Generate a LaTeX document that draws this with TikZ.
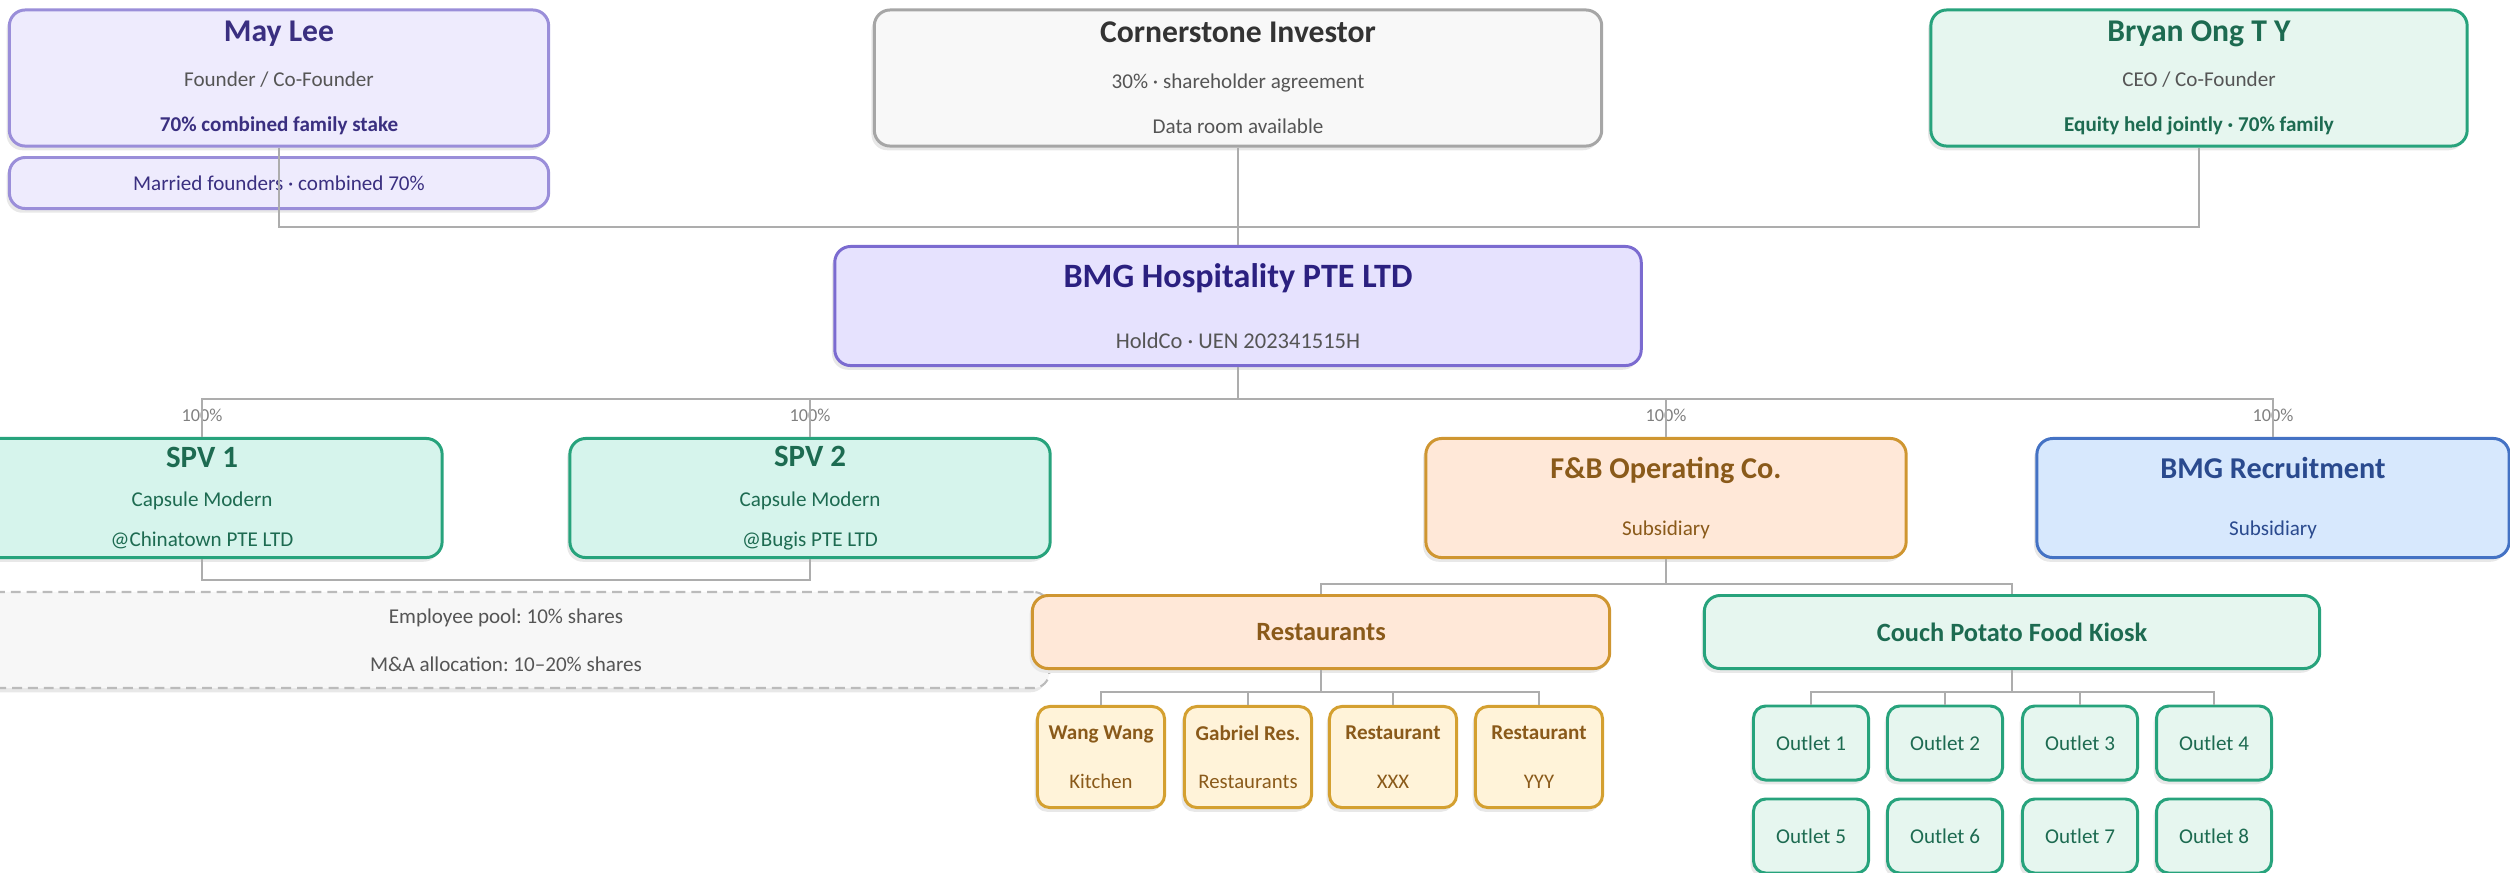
\documentclass[tikz,border=0pt]{standalone}
\usepackage{fontspec}
\setmainfont{Carlito}
\usepackage{tikz}
\usetikzlibrary{shadows}
\frenchspacing
\definecolor{linkgray}{HTML}{ADADAD}
\definecolor{subgray}{HTML}{555555}
\definecolor{lavfill}{HTML}{EEEBFD}
\definecolor{lavline}{HTML}{9A8ED9}
\definecolor{lavtext}{HTML}{3A2F80}
\definecolor{invfill}{HTML}{F8F8F8}
\definecolor{invline}{HTML}{A6A6A6}
\definecolor{invtext}{HTML}{333333}
\definecolor{mintfill}{HTML}{E6F6EF}
\definecolor{mintline}{HTML}{27A37C}
\definecolor{minttext}{HTML}{1D6B51}
\definecolor{holdfill}{HTML}{E6E2FE}
\definecolor{holdline}{HTML}{7B6BD0}
\definecolor{holdtext}{HTML}{2B2080}
\definecolor{spvfill}{HTML}{D6F4EC}
\definecolor{peachfill}{HTML}{FFE8D8}
\definecolor{peachline}{HTML}{CF9631}
\definecolor{browntext}{HTML}{8A5A1A}
\definecolor{bluefill}{HTML}{D7E8FD}
\definecolor{blueline}{HTML}{4472C4}
\definecolor{bluetext}{HTML}{2A4A8E}
\definecolor{poolfill}{HTML}{F7F7F7}
\definecolor{poolline}{HTML}{BBBBBB}
\definecolor{creamfill}{HTML}{FFF3D9}
\definecolor{creamline}{HTML}{D4A030}
\newcommand{\hd}[2][9]{{\fontsize{#1}{#1}\selectfont\bfseries #2}}
\tikzset{%
    box/.style={draw, rounded corners=4.5pt, line width=0.85pt, align=center, inner sep=0pt,
        drop shadow={shadow xshift=-0.8pt, shadow yshift=-1.2pt, fill=black!9, opacity=1}},
    lav/.style={box, fill=lavfill, draw=lavline, text=lavtext},
    inv/.style={box, fill=invfill, draw=invline, text=invtext},
    mint/.style={box, fill=mintfill, draw=mintline, text=minttext},
    hold/.style={box, fill=holdfill, draw=holdline, text=holdtext},
    spv/.style={box, fill=spvfill, draw=mintline, text=minttext},
    peach/.style={box, fill=peachfill, draw=peachline, text=browntext},
    blu/.style={box, fill=bluefill, draw=blueline, text=bluetext},
    cream/.style={box, fill=creamfill, draw=creamline, text=browntext, rounded corners=3.5pt},
    outlet/.style={box, fill=mintfill, draw=mintline, text=minttext, rounded corners=3.5pt,
        minimum width=1.15cm, minimum height=0.74cm, font=\fontsize{6}{7}\selectfont}
}

\begin{document}
\begin{tikzpicture}[
        x=0.01cm, y=-0.01cm,
        link/.style={draw=linkgray, line width=0.6pt},
        pct/.style={text=gray, font=\fontsize{5.2}{6}\selectfont, inner sep=0pt},
        top/.style={minimum width=5.39cm, minimum height=1.36cm, font=\fontsize{6}{12.9}\selectfont},
        sub/.style={minimum width=4.8cm, minimum height=1.19cm}
        ]
        \useasboundingbox (0,0) rectangle (2510,872);
        \clip (0,0) rectangle (2510,872);

        \node[lav, top] (may) at (279,78) {\hd{May Lee}\\ {\color{subgray}Founder / Co-Founder}\\ {\bfseries 70\% combined family stake}};
        \node[lav, minimum width=5.39cm, minimum height=0.51cm, font=\fontsize{6}{7}\selectfont] (married) at (279,183) {Married founders · combined 70\%};
        \node[inv, top, minimum width=7.27cm] (investor) at (1238,78) {\hd{Cornerstone Investor}\\ {\color{subgray}30\% · shareholder agreement}\\ {\color{subgray}Data room available}};
        \node[mint, top, minimum width=5.36cm] (bryan) at (2199,78) {\hd{Bryan Ong T Y}\\ {\color{subgray}CEO / Co-Founder}\\ {\bfseries Equity held jointly · 70\% family}};

        \node[hold, minimum width=8.06cm, minimum height=1.19cm, font=\fontsize{6.4}{17.2}\selectfont] (holdco) at (1238,306) {\hd[9.7]{BMG Hospitality PTE LTD}\\ {\color{subgray}HoldCo · UEN 202341515H}};

        \node[spv, sub, font=\fontsize{6}{11.3}\selectfont] (spv1) at (202,498) {\hd[8.8]{SPV 1}\\ Capsule Modern\\ @Chinatown PTE LTD};
        \node[spv, sub, font=\fontsize{6}{11.3}\selectfont] (spv2) at (810,498) {\hd[8.8]{SPV 2}\\ Capsule Modern\\ @Bugis PTE LTD};
        \node[peach, sub, font=\fontsize{6}{16.4}\selectfont] (fnb) at (1666,498) {\hd[8.6]{F\&B Operating Co.}\\ Subsidiary};
        \node[blu, sub, minimum width=4.72cm, font=\fontsize{6}{16.4}\selectfont] (recruit) at (2273,498) {\hd[8.6]{BMG Recruitment}\\ Subsidiary};

        \node[pct] (p1) at (202,415) {100\%};
        \node[pct] (p2) at (810,415) {100\%};
        \node[pct] (p3) at (1666,415) {100\%};
        \node[pct] (p4) at (2273,415) {100\%};

        \node[box, fill=poolfill, draw=poolline, line width=0.6pt, dash pattern=on 2.8pt off 1.7pt, text=subgray,
            minimum width=10.86cm, minimum height=0.96cm, font=\fontsize{6}{13.6}\selectfont] (pool) at (506,640)
            {Employee pool: 10\% shares\\ M\&A allocation: 10--20\% shares};

        \node[peach, minimum width=5.77cm, minimum height=0.73cm] (rest) at (1321,632) {\hd[7.5]{Restaurants}};
        \node[mint, minimum width=6.15cm, minimum height=0.73cm] (couch) at (2012,632) {\hd[7.5]{Couch Potato Food Kiosk}};

        \node[cream, minimum width=1.27cm, minimum height=1.01cm, font=\fontsize{5.9}{13.8}\selectfont] (wang) at (1101,757) {\hd[6]{Wang Wang}\\ Kitchen};
        \node[cream, minimum width=1.27cm, minimum height=1.01cm, font=\fontsize{5.9}{13.8}\selectfont] (gab) at (1248,757) {\hd[6]{Gabriel Res.}\\ Restaurants};
        \node[cream, minimum width=1.27cm, minimum height=1.01cm, font=\fontsize{5.9}{13.8}\selectfont] (rx) at (1393,757) {\hd[6]{Restaurant}\\ XXX};
        \node[cream, minimum width=1.27cm, minimum height=1.01cm, font=\fontsize{5.9}{13.8}\selectfont] (ry) at (1539,757) {\hd[6]{Restaurant}\\ YYY};

        \node[outlet] (o1) at (1811,743) {Outlet 1};
        \node[outlet] (o2) at (1945,743) {Outlet 2};
        \node[outlet] (o3) at (2080,743) {Outlet 3};
        \node[outlet] (o4) at (2214,743) {Outlet 4};
        \node[outlet] (o5) at (1811,836) {Outlet 5};
        \node[outlet] (o6) at (1945,836) {Outlet 6};
        \node[outlet] (o7) at (2080,836) {Outlet 7};
        \node[outlet] (o8) at (2214,836) {Outlet 8};

        \coordinate (own) at (1238,227);
        \coordinate (hub) at (1238,399);
        \coordinate (spvlink) at (506,580);
        \coordinate (fj) at (1666,584);
        \coordinate (rj) at (1321,692);
        \coordinate (cj) at (2012,692);

        \draw[link] (may.south) |- (own) -| (bryan.south);
        \draw[link] (investor.south) -- (holdco.north);
        \draw[link] (holdco.south) -- (hub);
        \draw[link] (spv1.north) |- (hub) -| (recruit.north);
        \draw[link] (spv2.north) -- (spv2.north |- hub);
        \draw[link] (fnb.north) -- (fnb.north |- hub);
        \draw[link] (spv1.south) |- (spvlink) -| (spv2.south);
        \draw[link] (fnb.south) -- (fj);
        \draw[link] (rest.north) |- (fj) -| (couch.north);
        \draw[link] (rest.south) -- (rj);
        \draw[link] (wang.north) |- (rj) -| (ry.north);
        \draw[link] (gab.north) -- (gab.north |- rj);
        \draw[link] (rx.north) -- (rx.north |- rj);
        \draw[link] (couch.south) -- (cj);
        \draw[link] (o1.north) |- (cj) -| (o4.north);
        \draw[link] (o2.north) -- (o2.north |- cj);
        \draw[link] (o3.north) -- (o3.north |- cj);
    \end{tikzpicture}
\end{document}
